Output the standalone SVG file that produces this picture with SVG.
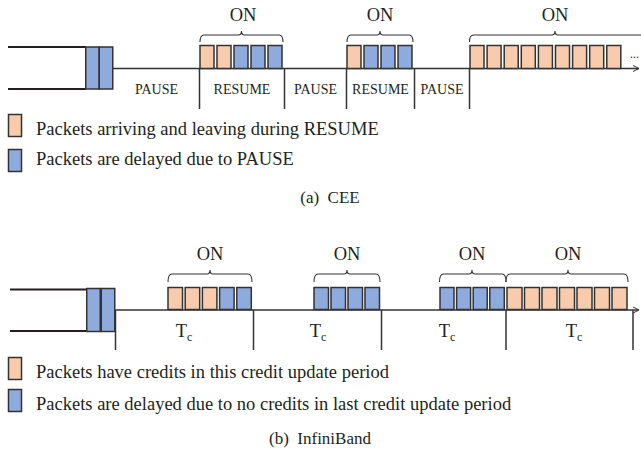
<svg xmlns="http://www.w3.org/2000/svg" width="641" height="452" viewBox="0 0 641 452">
<style>
text{font-family:"Liberation Serif","Times New Roman",serif;fill:#231f20}
.on{font-size:18.5px;text-anchor:middle}
.lbl{font-size:14px;text-anchor:middle}
.leg{font-size:18.5px}
.cap{font-size:17px;text-anchor:middle;white-space:pre}
.tc{font-size:18.5px;text-anchor:middle}
.pk{fill:#f8cbad;stroke:#333;stroke-width:1.5}
.bl{fill:#8faadc;stroke:#333;stroke-width:1.5}
.ln{stroke:#333;stroke-width:1.5;fill:none}
.q{stroke:#231f20;stroke-width:2.2;fill:none}
.br{stroke:#333;stroke-width:1.1;fill:none}
</style>
<defs>
<marker id="ar" markerWidth="8" markerHeight="8" refX="7" refY="4" orient="auto" markerUnits="userSpaceOnUse">
<path d="M1,1 L7,4 L1,7" fill="none" stroke="#333" stroke-width="1"/>
</marker>
</defs>

<!-- (a) CEE -->
<g id="queueA">
<line class="q" x1="8" y1="47" x2="86" y2="47"/>
<line class="q" x1="8" y1="89" x2="86" y2="89"/>
<rect class="bl" x="85.75" y="47" width="13.5" height="42"/>
<rect class="bl" x="99.25" y="47" width="13.5" height="42"/>
</g>

<g id="connectorsA">
<line class="ln" x1="113" y1="68.5" x2="639" y2="68.5" marker-end="url(#ar)"/>
<line class="ln" x1="199.5" y1="68.5" x2="199.5" y2="109"/>
<line class="ln" x1="284.5" y1="68.5" x2="284.5" y2="109"/>
<line class="ln" x1="346.5" y1="68.5" x2="346.5" y2="109"/>
<line class="ln" x1="414.5" y1="68.5" x2="414.5" y2="109"/>
<line class="ln" x1="469.5" y1="68.5" x2="469.5" y2="109"/>
</g>

<g id="groupA1">
<path class="br" d="M200,42 q0,-7 4,-7 H238.5 q3,0 3,-4 q0,4 3,4 H279 q4,0 4,7"/>
<text class="on" x="243" y="21">ON</text>
<rect class="pk" x="200" y="45.5" width="14" height="23"/>
<rect class="pk" x="217" y="45.5" width="14" height="23"/>
<rect class="bl" x="234" y="45.5" width="14" height="23"/>
<rect class="bl" x="251" y="45.5" width="14" height="23"/>
<rect class="bl" x="268" y="45.5" width="14" height="23"/>
</g>

<g id="groupA2">
<path class="br" d="M347,42 q0,-7 4,-7 H377 q3,0 3,-4 q0,4 3,4 H409 q4,0 4,7"/>
<text class="on" x="380" y="21">ON</text>
<rect class="pk" x="347" y="45.5" width="14" height="23"/>
<rect class="bl" x="364" y="45.5" width="14" height="23"/>
<rect class="bl" x="381" y="45.5" width="14" height="23"/>
<rect class="bl" x="398" y="45.5" width="14" height="23"/>
</g>

<g id="groupA3">
<path class="br" d="M469.5,42 q0,-7 4,-7 H552 q3,0 3,-4 q0,4 3,4 H645"/>
<text class="on" x="555" y="21">ON</text>
<rect class="pk" x="470" y="45.5" width="14" height="23"/>
<rect class="pk" x="487.1" y="45.5" width="14" height="23"/>
<rect class="pk" x="504.2" y="45.5" width="14" height="23"/>
<rect class="pk" x="521.3" y="45.5" width="14" height="23"/>
<rect class="pk" x="538.4" y="45.5" width="14" height="23"/>
<rect class="pk" x="555.5" y="45.5" width="14" height="23"/>
<rect class="pk" x="572.6" y="45.5" width="14" height="23"/>
<rect class="pk" x="589.7" y="45.5" width="14" height="23"/>
<rect class="pk" x="606.8" y="45.5" width="14" height="23"/>
<text x="630" y="58" style="font-size:12px">...</text>
</g>

<g id="labelsA">
<text class="lbl" x="156.5" y="94">PAUSE</text>
<text class="lbl" x="242" y="94">RESUME</text>
<text class="lbl" x="315.5" y="94">PAUSE</text>
<text class="lbl" x="380.5" y="94">RESUME</text>
<text class="lbl" x="442" y="94">PAUSE</text>
</g>

<g id="legendA">
<rect class="pk" x="8.5" y="114.5" width="13" height="22"/>
<text class="leg" x="36" y="135">Packets arriving and leaving during RESUME</text>
<rect class="bl" x="8.5" y="149.5" width="13" height="22"/>
<text class="leg" x="36" y="165">Packets are delayed due to PAUSE</text>
<text class="cap" x="330" y="203">(a)  CEE</text>
</g>

<!-- (b) InfiniBand -->
<g id="queueB">
<line class="q" x1="10" y1="289.5" x2="87" y2="289.5"/>
<line class="q" x1="10" y1="331" x2="87" y2="331"/>
<rect class="bl" x="86.75" y="288.5" width="13.5" height="43"/>
<rect class="bl" x="101.25" y="288.5" width="13.5" height="43"/>
</g>

<g id="connectorsB">
<line class="ln" x1="115" y1="310" x2="639" y2="310" marker-end="url(#ar)"/>
<line class="ln" x1="115.5" y1="310" x2="115.5" y2="350"/>
<line class="ln" x1="253.5" y1="310" x2="253.5" y2="350"/>
<line class="ln" x1="381.5" y1="310" x2="381.5" y2="350"/>
<line class="ln" x1="506" y1="310" x2="506" y2="350"/>
<line class="ln" x1="633" y1="310" x2="633" y2="350"/>
</g>

<g id="groupB1">
<path class="br" d="M168,282 q0,-8 4,-8 H207 q3,0 3,-4 q0,4 3,4 H248 q4,0 4,8"/>
<text class="on" x="210" y="260">ON</text>
<rect class="pk" x="168" y="287.5" width="14.5" height="22"/>
<rect class="pk" x="185.2" y="287.5" width="14.5" height="22"/>
<rect class="pk" x="202.4" y="287.5" width="14.5" height="22"/>
<rect class="bl" x="219.6" y="287.5" width="14.5" height="22"/>
<rect class="bl" x="236.8" y="287.5" width="14.5" height="22"/>
</g>

<g id="groupB2">
<path class="br" d="M314,282 q0,-8 4,-8 H344 q3,0 3,-4 q0,4 3,4 H376 q4,0 4,8"/>
<text class="on" x="347" y="260">ON</text>
<rect class="bl" x="314" y="287.5" width="14.5" height="22"/>
<rect class="bl" x="331" y="287.5" width="14.5" height="22"/>
<rect class="bl" x="348" y="287.5" width="14.5" height="22"/>
<rect class="bl" x="365" y="287.5" width="14.5" height="22"/>
</g>

<g id="groupB3">
<path class="br" d="M439.5,282 q0,-8 4,-8 H469 q3,0 3,-4 q0,4 3,4 H502 q4,0 4,8"/>
<text class="on" x="472" y="260">ON</text>
<rect class="bl" x="440" y="287.5" width="14" height="22"/>
<rect class="bl" x="456.6" y="287.5" width="14" height="22"/>
<rect class="bl" x="473.2" y="287.5" width="14" height="22"/>
<rect class="bl" x="489.8" y="287.5" width="14.5" height="22"/>
</g>

<g id="groupB4">
<path class="br" d="M506,282 q0,-8 4,-8 H565 q3,0 3,-4 q0,4 3,4 H624 q4,0 4,8"/>
<text class="on" x="568" y="260">ON</text>
<rect class="pk" x="507" y="287.5" width="15" height="22"/>
<rect class="pk" x="524.5" y="287.5" width="15" height="22"/>
<rect class="pk" x="542" y="287.5" width="15" height="22"/>
<rect class="pk" x="559.5" y="287.5" width="15" height="22"/>
<rect class="pk" x="577" y="287.5" width="15" height="22"/>
<rect class="pk" x="594.5" y="287.5" width="15" height="22"/>
<rect class="pk" x="612" y="287.5" width="15" height="22"/>
</g>

<g id="labelsB">
<text class="tc" x="184" y="337">T<tspan style="font-size:12px" dy="4">c</tspan></text>
<text class="tc" x="318" y="337">T<tspan style="font-size:12px" dy="4">c</tspan></text>
<text class="tc" x="447" y="337">T<tspan style="font-size:12px" dy="4">c</tspan></text>
<text class="tc" x="574" y="337">T<tspan style="font-size:12px" dy="4">c</tspan></text>
</g>

<g id="legendB">
<rect class="pk" x="8.5" y="357.5" width="13" height="22"/>
<text class="leg" x="36" y="378">Packets have credits in this credit update period</text>
<rect class="bl" x="8.5" y="389.5" width="13" height="22"/>
<text class="leg" x="36" y="410">Packets are delayed due to no credits in last credit update period</text>
<text class="cap" x="320" y="444">(b)  InfiniBand</text>
</g>
</svg>
